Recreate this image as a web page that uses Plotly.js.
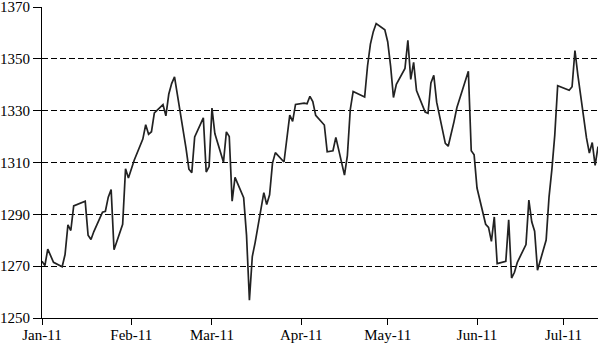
<!DOCTYPE html>
<html>
<head>
<meta charset="utf-8">
<script src="https://cdn.plot.ly/plotly-3.0.1.min.js"></script>
<style>
  html, body { margin: 0; padding: 0; background: #fff; }
  #chart { width: 599px; height: 343px; }
</style>
</head>
<body>
<div id="chart"></div>
<script>
const dates = [
  '2011-01-03','2011-01-04','2011-01-05','2011-01-06','2011-01-07','2011-01-10','2011-01-11','2011-01-12','2011-01-13','2011-01-14',
  '2011-01-18','2011-01-19','2011-01-20','2011-01-21','2011-01-24','2011-01-25','2011-01-26','2011-01-27','2011-01-28','2011-01-31',
  '2011-02-01','2011-02-02','2011-02-03','2011-02-04','2011-02-07','2011-02-08','2011-02-09','2011-02-10','2011-02-11','2011-02-14',
  '2011-02-15','2011-02-16','2011-02-17','2011-02-18','2011-02-22','2011-02-23','2011-02-24','2011-02-25','2011-02-28',
  '2011-03-01','2011-03-02','2011-03-03','2011-03-04','2011-03-07','2011-03-08','2011-03-09','2011-03-10','2011-03-11','2011-03-14',
  '2011-03-15','2011-03-16','2011-03-17','2011-03-18','2011-03-21','2011-03-22','2011-03-23','2011-03-24','2011-03-25','2011-03-28',
  '2011-03-29','2011-03-30','2011-03-31',
  '2011-04-01','2011-04-04','2011-04-05','2011-04-06','2011-04-07','2011-04-08','2011-04-11','2011-04-12','2011-04-13','2011-04-14',
  '2011-04-15','2011-04-18','2011-04-19','2011-04-20','2011-04-21','2011-04-25','2011-04-26','2011-04-27','2011-04-28','2011-04-29',
  '2011-05-02','2011-05-03','2011-05-04','2011-05-05','2011-05-06','2011-05-09','2011-05-10','2011-05-11','2011-05-12','2011-05-13',
  '2011-05-16','2011-05-17','2011-05-18','2011-05-19','2011-05-20','2011-05-23','2011-05-24','2011-05-25','2011-05-26','2011-05-27',
  '2011-05-31',
  '2011-06-01','2011-06-02','2011-06-03','2011-06-06','2011-06-07','2011-06-08','2011-06-09','2011-06-10','2011-06-13','2011-06-14',
  '2011-06-15','2011-06-16','2011-06-17','2011-06-20','2011-06-21','2011-06-22','2011-06-23','2011-06-24','2011-06-27','2011-06-28',
  '2011-06-29','2011-06-30',
  '2011-07-01','2011-07-05','2011-07-06','2011-07-07','2011-07-08','2011-07-11','2011-07-12','2011-07-13','2011-07-14','2011-07-15'
];

const closes = [
  1271.87,1270.20,1276.56,1273.85,1271.50,1269.75,1274.48,1285.96,1283.76,1293.24,
  1295.02,1281.92,1280.26,1283.35,1290.84,1291.18,1296.63,1299.54,1276.34,1286.12,
  1307.59,1304.03,1307.10,1310.87,1319.05,1324.57,1320.88,1321.87,1329.15,1332.32,
  1328.01,1336.32,1340.43,1343.01,1315.44,1307.40,1306.10,1319.88,1327.22,
  1306.33,1308.44,1330.97,1321.15,1310.13,1321.82,1320.02,1295.11,1304.28,1296.39,
  1281.87,1256.88,1273.72,1279.21,1298.38,1293.77,1297.54,1309.66,1313.80,1310.19,
  1319.44,1328.26,1325.83,
  1332.41,1332.87,1332.63,1335.54,1333.51,1328.17,1324.46,1314.16,1314.41,1314.52,
  1319.68,1305.14,1312.62,1330.36,1337.38,1335.25,1347.24,1355.66,1360.48,1363.61,
  1361.22,1356.62,1347.32,1335.10,1340.20,1346.29,1357.16,1342.08,1348.65,1337.77,
  1329.47,1328.98,1340.68,1343.60,1333.27,1317.37,1316.28,1320.47,1325.69,1331.10,
  1345.20,
  1314.55,1312.94,1300.16,1286.17,1284.94,1279.56,1289.00,1270.98,1271.83,1287.87,
  1265.42,1267.64,1271.50,1278.36,1295.52,1287.14,1283.50,1268.45,1280.10,1296.67,
  1307.41,1320.64,
  1339.67,1337.88,1339.22,1353.22,1343.80,1319.49,1313.64,1317.72,1308.87,1316.14
];

const xTickVals = ['2011-01-03','2011-02-03','2011-03-03','2011-04-03','2011-05-03','2011-06-03','2011-07-03'];
const xTickText = ['Jan-11','Feb-11','Mar-11','Apr-11','May-11','Jun-11','Jul-11'];
const yTickVals = [1250,1270,1290,1310,1330,1350,1370];

const font = {family: '"Liberation Serif", "DejaVu Serif", serif', size: 15, color: '#000'};

Plotly.newPlot('chart', [{
  x: dates,
  y: closes,
  type: 'scatter',
  mode: 'lines',
  line: {color: '#222', width: 1.7},
  hoverinfo: 'skip'
}], {
  width: 599,
  height: 343,
  margin: {l: 42, r: 1, t: 7, b: 25, pad: 0},
  paper_bgcolor: '#fff',
  plot_bgcolor: '#fff',
  showlegend: false,
  font: font,
  xaxis: {
    type: 'date',
    range: ['2011-01-03', '2011-07-15'],
    tickvals: xTickVals,
    ticktext: xTickText,
    ticks: 'outside',
    ticklen: 6,
    tickwidth: 1,
    tickcolor: '#000',
    ticklabelstandoff: -3,
    ticklabeloverflow: 'allow',
    showline: true,
    linecolor: '#000',
    linewidth: 1,
    showgrid: false,
    zeroline: false,
    tickfont: font,
    fixedrange: true
  },
  yaxis: {
    range: [1250, 1370],
    tickvals: yTickVals,
    ticks: 'outside',
    ticklen: 8,
    tickwidth: 1,
    tickcolor: '#000',
    ticklabeloverflow: 'allow',
    showline: true,
    linecolor: '#000',
    linewidth: 1,
    showgrid: true,
    gridcolor: '#000',
    gridwidth: 1,
    griddash: '6px,3px',
    zeroline: false,
    tickfont: font,
    fixedrange: true
  }
}, {staticPlot: true, displayModeBar: false});
</script>
</body>
</html>
